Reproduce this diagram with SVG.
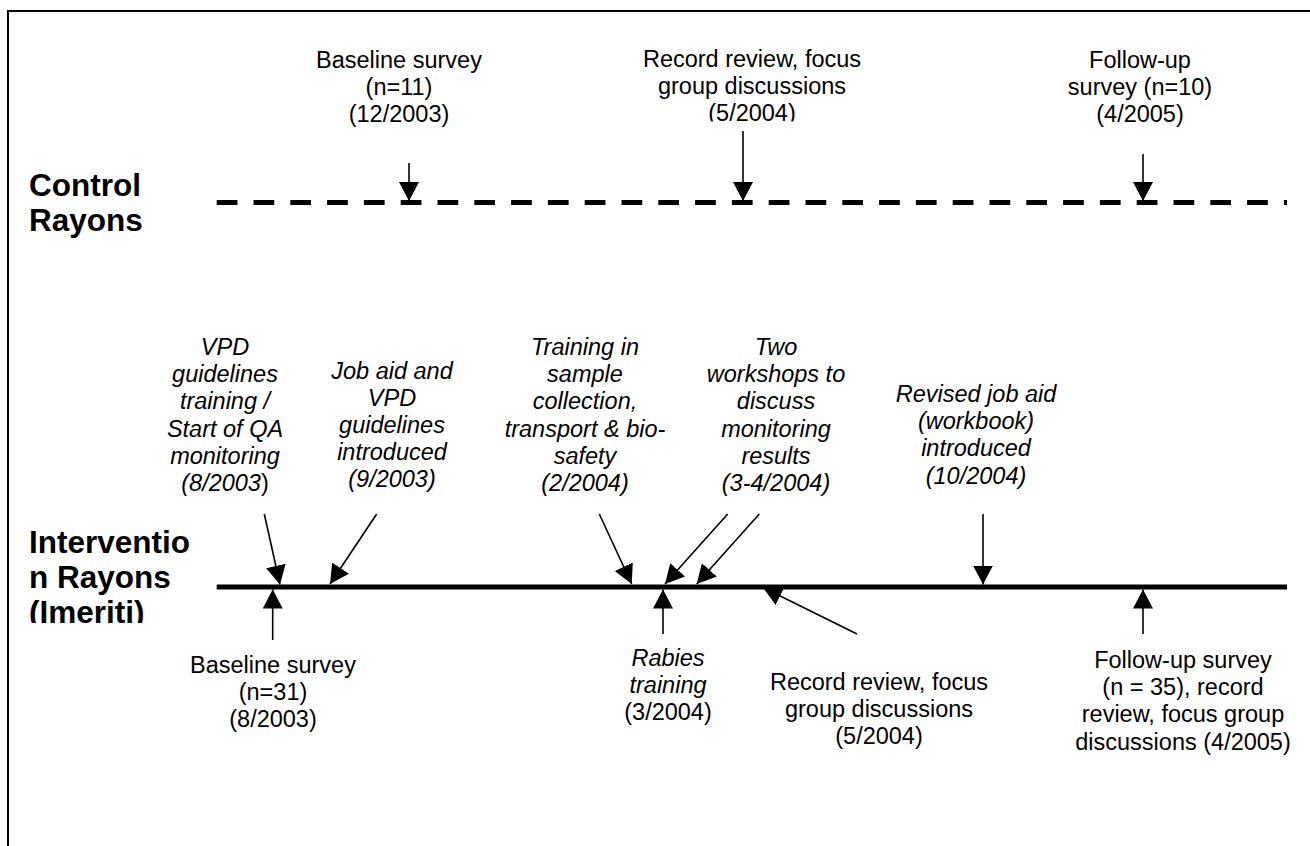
<svg xmlns="http://www.w3.org/2000/svg" width="1310" height="846" viewBox="0 0 1310 846">
<defs>
<style>
text { font-family: "Liberation Sans", Arial, sans-serif; font-size: 23.5px; fill: #000; }
.c { text-anchor: middle; }
.i { font-style: italic; }
.n { font-style: normal; }
.b { font-weight: bold; font-size: 31.5px; }
.conn line { stroke: #000; stroke-width: 1.6; marker-end: url(#ah); }
.axis { stroke: #000; stroke-width: 5; fill: none; }
</style>
<marker id="ah" markerUnits="userSpaceOnUse" viewBox="0 0 19 20" refX="19" refY="10" markerWidth="19" markerHeight="20" orient="auto">
<path d="M0,0 L19,10 L0,20 Z" fill="#000"/>
</marker>
<clipPath id="clipTop"><rect x="0" y="0" width="1310" height="121.5"/></clipPath>
<clipPath id="clipInt"><rect x="0" y="0" width="1310" height="623"/></clipPath>
</defs>
<rect x="0" y="0" width="1310" height="846" fill="#fff"/>
<path d="M8,846 V11 H1310" fill="none" stroke="#000" stroke-width="2"/>

<g id="control-timeline">
<line class="axis" x1="216.7" y1="202.5" x2="1287" y2="202.5" stroke-dasharray="20.7 16.1"/>
<text class="b" x="29" y="196">Control</text>
<text class="b" x="29" y="231">Rayons</text>
</g>

<g id="intervention-timeline">
<line class="axis" x1="216.7" y1="587" x2="1287" y2="587"/>
<g clip-path="url(#clipInt)">
<text class="b" x="29" y="553.3">Interventio</text>
<text class="b" x="29" y="588.3">n Rayons</text>
<text class="b" x="29" y="623.3">(Imeriti)</text>
</g>
</g>

<g id="ctrl-baseline">
<text class="c" x="399" y="68"><tspan x="399" y="68">Baseline survey</tspan><tspan x="399" y="95">(n=11)</tspan><tspan x="399" y="122">(12/2003)</tspan></text>
</g>
<g id="ctrl-record" clip-path="url(#clipTop)">
<text class="c" x="752" y="67"><tspan x="752" y="67">Record review, focus</tspan><tspan x="752" y="94.2">group discussions</tspan><tspan x="752" y="121.4">(5/2004)</tspan></text>
</g>
<g id="ctrl-followup">
<text class="c" x="1140" y="67.5"><tspan x="1140" y="67.5">Follow-up</tspan><tspan x="1140" y="94.7">survey (n=10)</tspan><tspan x="1140" y="122">(4/2005)</tspan></text>
</g>

<g id="int-vpd">
<text class="c i" x="225" y="355"><tspan x="225" y="355">VPD</tspan><tspan x="225" y="382.2">guidelines</tspan><tspan x="225" y="409.4">training /</tspan><tspan x="225" y="436.6">Start of QA</tspan><tspan x="225" y="463.8">monitoring</tspan><tspan x="225" y="491">(8/2003<tspan class="n">)</tspan></tspan></text>
</g>
<g id="int-jobaid">
<text class="c i" x="392" y="378.5"><tspan x="392" y="378.5">Job aid and</tspan><tspan x="392" y="405.7">VPD</tspan><tspan x="392" y="432.9">guidelines</tspan><tspan x="392" y="460.1">introduced</tspan><tspan x="392" y="487.3">(9/2003)</tspan></text>
</g>
<g id="int-sample">
<text class="c i" x="585" y="355"><tspan x="585" y="355">Training in</tspan><tspan x="585" y="382.2">sample</tspan><tspan x="585" y="409.4">collection,</tspan><tspan x="585" y="436.6">transport &amp; bio-</tspan><tspan x="585" y="463.8">safety</tspan><tspan x="585" y="491">(2/2004)</tspan></text>
</g>
<g id="int-workshops">
<text class="c i" x="776" y="355"><tspan x="776" y="355">Two</tspan><tspan x="776" y="382.2">workshops to</tspan><tspan x="776" y="409.4">discuss</tspan><tspan x="776" y="436.6">monitoring</tspan><tspan x="776" y="463.8">results</tspan><tspan x="776" y="491">(3-4/2004)</tspan></text>
</g>
<g id="int-revised">
<text class="c i" x="976" y="402"><tspan x="976" y="402">Revised job aid</tspan><tspan x="976" y="429.2">(workbook)</tspan><tspan x="976" y="456.4">introduced</tspan><tspan x="976" y="483.6">(10/2004)</tspan></text>
</g>

<g id="int-baseline">
<text class="c" x="273" y="673"><tspan x="273" y="673">Baseline survey</tspan><tspan x="273" y="700.2">(n=31)</tspan><tspan x="273" y="727.4">(8/2003)</tspan></text>
</g>
<g id="int-rabies">
<text class="c" x="668" y="665.5"><tspan class="i" x="668" y="665.5">Rabies</tspan><tspan class="i" x="668" y="692.7">training</tspan><tspan x="668" y="719.9">(3/2004)</tspan></text>
</g>
<g id="int-record">
<text class="c" x="879" y="690"><tspan x="879" y="690">Record review, focus</tspan><tspan x="879" y="717.2">group discussions</tspan><tspan x="879" y="744.4">(5/2004)</tspan></text>
</g>
<g id="int-followup">
<text class="c" x="1183" y="668"><tspan x="1183" y="668">Follow-up survey</tspan><tspan x="1183" y="695.2">(n = 35), record</tspan><tspan x="1183" y="722.4">review, focus group</tspan><tspan x="1183" y="749.6">discussions (4/2005)</tspan></text>
</g>

<g id="connectors" class="conn">
<line x1="409" y1="163" x2="409" y2="201"/>
<line x1="743" y1="131" x2="743" y2="201"/>
<line x1="1143" y1="154" x2="1143" y2="201"/>
<line x1="264.3" y1="514" x2="280" y2="584.5"/>
<line x1="376.7" y1="514" x2="330" y2="584"/>
<line x1="599.3" y1="514" x2="631.7" y2="584"/>
<line x1="727.7" y1="514" x2="665" y2="584"/>
<line x1="759.3" y1="514" x2="696.7" y2="584"/>
<line x1="983" y1="514" x2="983" y2="584.5"/>
<line x1="272.7" y1="640" x2="272.7" y2="589.5"/>
<line x1="663" y1="634" x2="663" y2="589.5"/>
<line x1="857" y1="634" x2="763" y2="587.5"/>
<line x1="1143" y1="634" x2="1143" y2="589.5"/>
</g>
</svg>
